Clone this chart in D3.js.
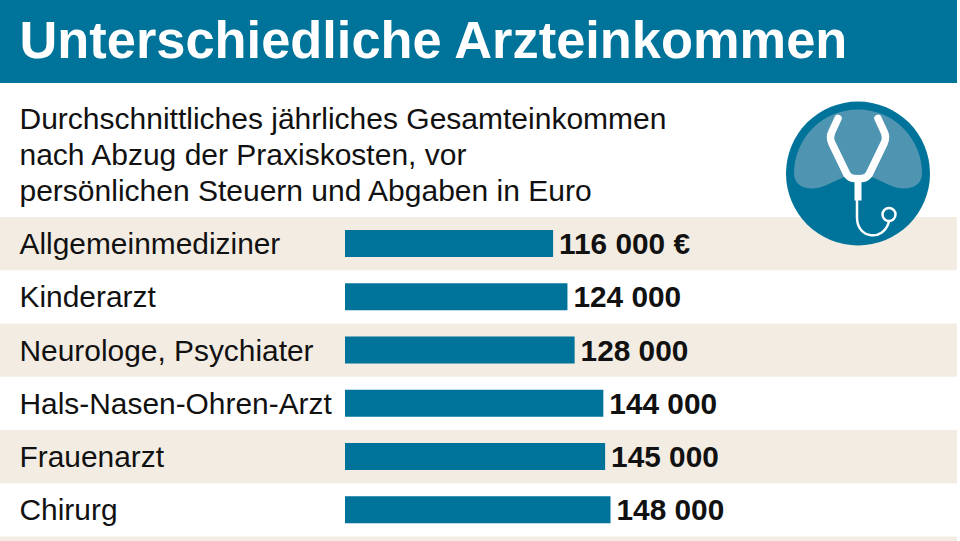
<!DOCTYPE html>
<html lang="de">
<head>
<meta charset="utf-8">
<title>Unterschiedliche Arzteinkommen</title>
<script src="https://cdn.jsdelivr.net/npm/d3@7"></script>
<style>
  html, body { margin: 0; padding: 0; background: #fff; }
  svg { display: block; }
  text { font-family: "Liberation Sans", Arial, sans-serif; fill: #111; }
</style>
</head>
<body>
<div id="chart"></div>
<script>
const titleText = "Unterschiedliche Arzteinkommen";
const subtitleLines = [
  "Durchschnittliches jährliches Gesamteinkommen",
  "nach Abzug der Praxiskosten, vor",
  "persönlichen Steuern und Abgaben in Euro"
];
const categories = [
  "Allgemeinmediziner",
  "Kinderarzt",
  "Neurologe, Psychiater",
  "Hals-Nasen-Ohren-Arzt",
  "Frauenarzt",
  "Chirurg"
];
const incomes = [116000, 124000, 128000, 144000, 145000, 148000];
const unitSuffixes = [" €", "", "", "", "", ""];

const W = 960, H = 541;
const BLUE = "#00739a", SAND = "#f3ece3";

const svg = d3.select("#chart").append("svg")
  .attr("width", W).attr("height", H).attr("viewBox", [0, 0, W, H]);

// Header band
svg.append("rect").attr("x", 0).attr("y", 0).attr("width", 957).attr("height", 83).attr("fill", BLUE);
svg.append("text").attr("x", 19.5).attr("y", 58)
  .style("font-size", "52.4px").style("font-weight", 700).style("fill", "#fff")
  .text(titleText);

// Intro lines
svg.selectAll("text.sub").data(subtitleLines).join("text")
  .attr("class", "sub").attr("x", 19.5)
  .attr("y", (d, i) => 128.5 + i * 36.2)
  .style("font-size", "30px")
  .text(d => d);

// Row geometry
const rowY = d3.scaleBand().domain(categories).range([217, 536.5]);
const x = d3.scaleLinear().domain([0, 148000]).range([345, 610.5]);
const fmt = v => d3.format(",")(v).replace(/,/g, " ");

// Alternating sand stripes, one extra peeking out at the foot
const stripes = svg.append("g");
stripes.selectAll("rect").data(categories.filter((d, i) => i % 2 === 0)).join("rect")
  .attr("x", 0).attr("y", d => rowY(d))
  .attr("width", 957).attr("height", rowY.bandwidth())
  .attr("fill", SAND);
stripes.append("rect").attr("x", 0).attr("y", rowY.range()[1])
  .attr("width", 957).attr("height", H - rowY.range()[1]).attr("fill", SAND);

const rows = svg.append("g").selectAll("g").data(categories).join("g")
  .attr("transform", d => `translate(0,${rowY(d)})`);

rows.append("text").attr("x", 19.5).attr("y", 37)
  .style("font-size", "29.9px").text(d => d);

rows.append("rect")
  .attr("x", x(0)).attr("y", 13)
  .attr("width", (d, i) => x(incomes[i]) - x(0))
  .attr("height", 27)
  .attr("fill", BLUE);

rows.append("text")
  .attr("x", (d, i) => x(incomes[i]) + 6).attr("y", 37)
  .style("font-size", "29.8px").style("font-weight", 700)
  .text((d, i) => fmt(incomes[i]) + unitSuffixes[i]);

// Stethoscope badge
const badge = svg.append("g").attr("transform", "translate(858,173.5)");
badge.append("circle").attr("r", 72).attr("fill", BLUE);
badge.append("path")
  .attr("d", "M-64,0 A64,64 0 1 1 64,0 C64,10 56,15 46,15 C30,15 18,1 0,1 C-18,1 -30,15 -46,15 C-56,15 -64,10 -64,0 Z")
  .attr("fill", "#4f95b1");
const white = badge.append("g").attr("fill", "none").attr("stroke", "#fff").attr("stroke-linecap", "round");
white.append("path")
  .attr("d", "M-20,-55 L-26,-42 Q-29,-36 -26,-30 L-11,1 Q-8,5 -3,5 L3,5 Q8,5 11,1 L26,-30 Q29,-36 26,-42 L20,-55")
  .attr("stroke-width", 7.5).attr("stroke-linejoin", "round");
white.append("path").attr("d", "M0,5 L0,27").attr("stroke-width", 7).attr("stroke-linecap", "butt");
white.append("path")
  .attr("d", "M-1,27 L-1,44 C-1,66 26,68 31,48")
  .attr("stroke-width", 2.5);
white.append("circle").attr("cx", 31).attr("cy", 41).attr("r", 6.5).attr("stroke-width", 2.5);
</script>
</body>
</html>
